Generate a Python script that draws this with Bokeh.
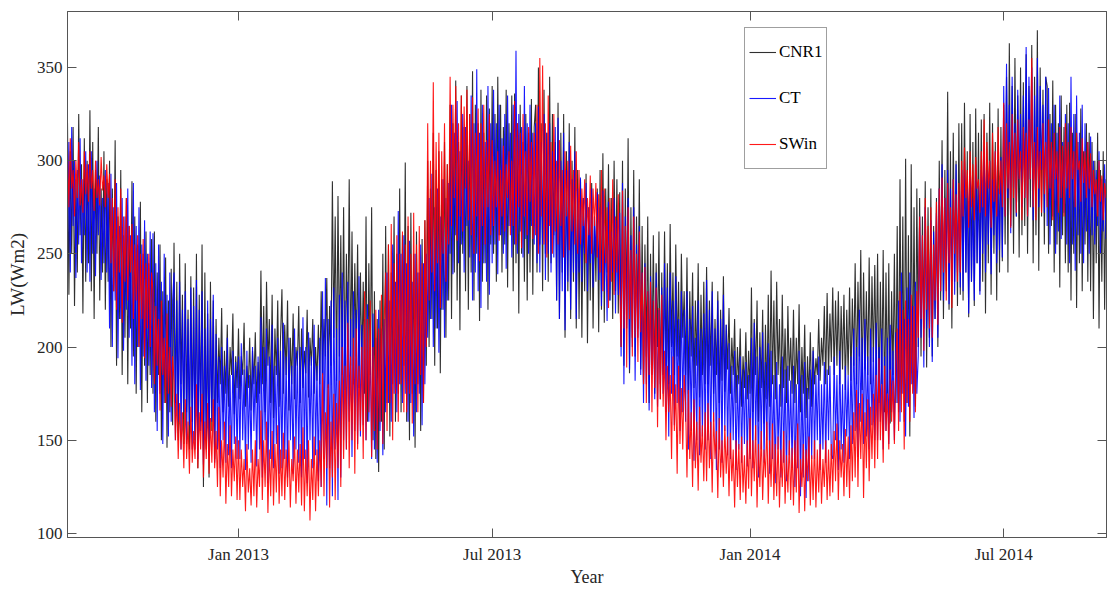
import datetime as dt
import numpy as np
from bokeh.plotting import figure
from bokeh.models import (FixedTicker, DatetimeTickFormatter, Legend, LegendItem,
                          Range1d, DatetimeAxis, LinearAxis)
from bokeh.embed import file_html
from bokeh.resources import INLINE

# ---------------- data (one sample per day from 2012-09-01) ----
START_DATE = dt.datetime(2012, 9, 1)
STEP_DAYS = 1

cnr1 = [
    # Sep 2012
    320, 228, 305, 250, 318, 222, 290, 240, 325, 260, 298, 218, 312, 235, 300,
    245, 327, 230, 310, 215, 295, 250, 318, 225, 285, 240, 305, 220, 290, 235,
    # Oct 2012
    300, 200, 285, 230, 311, 190, 270, 215, 295, 185, 260, 205, 280, 180, 265, 210,
    289, 195, 270, 175, 255, 200, 278, 165, 250, 190, 262, 170, 245, 185, 258,
    # Nov 2012
    175, 262, 160, 240, 185, 255, 150, 230, 170, 248, 146, 225, 165, 242, 158,
    256, 170, 235, 150, 250, 180, 228, 148, 245, 165, 220, 145, 238, 160, 232,
    # Dec 2012
    150, 250, 135, 228, 160, 255, 125, 240, 145, 218, 130, 235, 155, 225, 140,
    215, 170, 205, 180, 221, 165, 198, 175, 212, 168, 200, 185, 218, 164, 195, 178,
    # Jan 2013
    210, 172, 195, 185, 213, 168, 190, 178, 205, 166, 198, 180, 208, 170, 192,
    175, 241, 180, 222, 165, 235, 190, 215, 170, 228, 162, 210, 185, 225, 168, 205,
    # Feb 2013
    231, 175, 212, 185, 225, 166, 205, 180, 218, 172, 200, 190, 222, 170,
    210, 178, 198, 186, 220, 173, 205, 190, 215, 175, 200, 182, 212, 180,
    # Mar 2013
    230, 185, 215, 195, 237, 178, 222, 190, 289, 205, 270, 182, 281, 195, 260,
    185, 275, 177, 250, 200, 290, 190, 262, 180, 245, 195, 255, 178, 240, 188, 235,
    # Apr 2013
    175, 270, 160, 245, 185, 275, 150, 230, 140, 215, 133, 225, 160, 250, 145,
    265, 170, 255, 152, 240, 180, 270, 160, 250, 175, 285, 165, 260, 190, 299,
    # May 2013
    160, 265, 150, 272, 175, 250, 146, 262, 180, 240, 155, 258, 170, 268, 190,
    300, 200, 285, 215, 315, 190, 295, 210, 305, 186, 290, 220, 310, 205, 298, 225,
    # Jun 2013
    330, 215, 320, 240, 343, 225, 310, 209, 335, 250, 318, 230, 340, 220, 325,
    240, 348, 225, 330, 250, 320, 214, 338, 235, 315, 245, 335, 220, 328, 255,
    # Jul 2013
    340, 250, 325, 235, 345, 260, 330, 240, 318, 255, 338, 232, 320, 265, 335,
    230, 336, 245, 320, 218, 330, 250, 310, 235, 325, 225, 315, 240, 333, 228, 318,
    # Aug 2013
    330, 240, 350, 255, 320, 230, 338, 250, 315, 235, 345, 245, 325, 260, 310,
    225, 331, 215, 315, 240, 325, 205, 305, 230, 320, 215, 300, 235, 318, 210, 295,
    # Sep 2013
    215, 290, 205, 280, 230, 293, 202, 275, 225, 288, 210, 270, 235, 285, 208,
    295, 220, 304, 213, 285, 240, 298, 225, 280, 215, 300, 230, 290, 218, 283,
    # Oct 2013
    200, 300, 190, 285, 215, 312, 186, 275, 205, 295, 195, 270, 210, 290, 188,
    265, 180, 255, 195, 270, 170, 250, 190, 260, 175, 245, 200, 262, 172, 240, 185,
    # Nov 2013
    262, 190, 245, 180, 266, 200, 240, 185, 255, 195, 235, 182, 250, 205, 230,
    185, 248, 175, 230, 195, 240, 178, 225, 190, 245, 173, 228, 185, 235, 180,
    # Dec 2013
    243, 180, 225, 190, 235, 175, 215, 185, 230, 170, 220, 182, 238, 176, 212, 188,
    221, 175, 205, 185, 215, 170, 200, 180, 210, 168, 195, 178, 208, 172, 198,
    # Jan 2014
    175, 232, 165, 215, 185, 225, 160, 208, 178, 220, 159, 212, 172, 228, 168,
    241, 180, 225, 172, 235, 185, 215, 168, 228, 178, 210, 170, 222, 182, 205, 175,
    # Feb 2014
    220, 170, 205, 180, 223, 165, 200, 175, 212, 162, 195, 172, 208, 168,
    200, 180, 194, 185, 215, 182, 205, 190, 222, 180, 229, 185, 218, 192,
    # Mar 2014
    232, 185, 225, 190, 230, 180, 222, 188, 228, 177, 220, 185, 232, 182, 226,
    190, 245, 180, 235, 195, 252, 177, 240, 188, 230, 185, 248, 180, 238, 192, 244,
    # Apr 2014
    185, 250, 170, 235, 180, 252, 165, 240, 175, 245, 159, 230, 185, 250, 170,
    265, 165, 290, 175, 270, 160, 301, 170, 260, 152, 298, 180, 275, 168, 285,
    # May 2014
    200, 280, 195, 270, 210, 289, 189, 275, 205, 285, 195, 265, 215, 280, 200,
    300, 225, 311, 215, 295, 230, 337, 220, 305, 210, 315, 235, 300, 222, 320, 228,
    # Jun 2014
    320, 225, 331, 240, 305, 216, 325, 235, 310, 222, 328, 245, 315, 230, 322,
    235, 325, 218, 315, 245, 331, 228, 320, 250, 310, 225, 328, 240, 318, 246,
    # Jul 2014
    330, 255, 345, 240, 363, 265, 340, 250, 355, 270, 335, 248, 350, 260, 342,
    265, 357, 250, 340, 275, 362, 245, 345, 260, 370, 241, 350, 270, 338, 255, 345,
    # Aug 2014
    340, 250, 325, 265, 343, 240, 330, 255, 320, 232, 335, 260, 318, 245, 330,
    240, 331, 225, 315, 250, 325, 221, 310, 245, 328, 230, 305, 255, 320, 235, 315,
    # Sep 2014
    230, 310, 215, 300, 245, 315, 210, 295, 235, 305, 220, 290,
]

ct = [
    # Sep 2012
    250, 310, 240, 318, 265, 300, 237, 295, 255, 312, 245, 290, 260, 305, 240,
    298, 235, 305, 250, 285, 238, 300, 260, 292, 236, 280, 245, 295, 240, 288,
    # Oct 2012
    210, 293, 200, 275, 225, 288, 194, 265, 215, 280, 198, 270, 220, 285, 205, 260,
    190, 288, 180, 265, 200, 275, 177, 255, 195, 268, 182, 250, 190, 262, 178,
    # Nov 2012
    261, 165, 245, 155, 255, 175, 235, 148, 250, 170, 228, 152, 240, 160, 225,
    240, 150, 225, 160, 235, 145, 220, 165, 230, 148, 215, 158, 232, 145, 222,
    # Dec 2012
    145, 236, 140, 220, 155, 230, 137, 210, 150, 225, 142, 215, 160, 228, 138,
    207, 145, 195, 135, 200, 150, 190, 138, 205, 142, 185, 135, 198, 148, 192, 140,
    # Jan 2013
    195, 140, 202, 150, 188, 134, 198, 145, 185, 138, 200, 155, 190, 136, 195,
    145, 216, 130, 200, 150, 210, 127, 195, 140, 212, 135, 190, 148, 205, 132, 198,
    # Feb 2013
    135, 213, 140, 195, 130, 205, 150, 190, 132, 210, 145, 198, 138, 200,
    130, 216, 140, 200, 127, 208, 150, 195, 135, 212, 142, 190, 128, 205,
    # Mar 2013
    125, 230, 140, 237, 115, 215, 135, 225, 120, 232, 145, 210, 118, 228, 130,
    240, 150, 225, 145, 235, 160, 215, 141, 230, 155, 220, 148, 238, 152, 212, 158,
    # Apr 2013
    215, 150, 223, 160, 200, 140, 218, 145, 205, 138, 220, 155, 210, 142, 215,
    165, 240, 170, 225, 160, 255, 175, 235, 165, 273, 180, 250, 170, 260, 175,
    # May 2013
    245, 160, 257, 170, 235, 152, 250, 165, 240, 175, 255, 158, 245, 180, 250,
    205, 280, 215, 293, 200, 275, 210, 285, 197, 270, 220, 290, 205, 280, 225, 288,
    # Jun 2013
    250, 330, 239, 315, 260, 332, 245, 305, 255, 325, 240, 318, 265, 300, 248,
    335, 225, 320, 240, 349, 230, 315, 221, 330, 245, 310, 235, 340, 228, 320,
    # Jul 2013
    245, 338, 255, 320, 239, 330, 260, 312, 250, 325, 242, 335, 265, 315, 248,
    330, 255, 359, 250, 325, 262, 318, 248, 340, 258, 320, 250, 330, 265, 315, 255,
    # Aug 2013
    320, 245, 329, 240, 310, 255, 325, 236, 315, 250, 320, 240, 305, 248, 318,
    225, 323, 215, 300, 230, 315, 209, 295, 235, 310, 220, 290, 240, 305, 215, 285,
    # Sep 2013
    240, 291, 235, 280, 250, 288, 230, 275, 245, 285, 232, 270, 248, 283, 236,
    275, 222, 284, 230, 265, 214, 278, 225, 262, 240, 280, 218, 268, 228, 272,
    # Oct 2013
    195, 288, 180, 270, 210, 280, 188, 260, 200, 275, 182, 255, 205, 265, 185,
    240, 170, 245, 180, 230, 166, 238, 185, 225, 172, 240, 168, 220, 180, 232, 175,
    # Nov 2013
    245, 165, 232, 152, 240, 175, 225, 158, 238, 170, 215, 155, 230, 165, 220,
    160, 230, 145, 215, 155, 222, 139, 205, 150, 225, 142, 210, 152, 218, 145,
    # Dec 2013
    236, 150, 220, 140, 230, 160, 210, 134, 225, 145, 215, 138, 228, 155, 212, 142,
    202, 140, 190, 150, 198, 134, 185, 145, 195, 138, 188, 148, 192, 136, 185,
    # Jan 2014
    140, 205, 135, 213, 150, 195, 130, 200, 145, 208, 138, 192, 150, 202, 132,
    198, 140, 185, 127, 192, 145, 180, 130, 195, 138, 188, 128, 190, 142, 182, 135,
    # Feb 2014
    190, 125, 180, 135, 198, 120, 185, 130, 192, 119, 178, 128, 188, 140,
    198, 140, 185, 150, 195, 134, 180, 145, 192, 138, 188, 150, 190, 142,
    # Mar 2014
    140, 195, 150, 185, 134, 198, 145, 180, 138, 190, 152, 185, 140, 195, 148,
    210, 155, 200, 141, 220, 160, 205, 148, 215, 152, 195, 145, 210, 158, 200, 150,
    # Apr 2014
    213, 150, 200, 160, 210, 145, 195, 155, 205, 148, 212, 165, 198, 150, 208,
    170, 225, 160, 240, 175, 215, 152, 232, 168, 240, 180, 222, 162, 235, 175,
    # May 2014
    195, 270, 205, 260, 189, 275, 210, 250, 200, 268, 192, 262, 215, 272, 205,
    285, 230, 298, 225, 280, 240, 295, 223, 285, 235, 290, 228, 298, 240, 282, 232,
    # Jun 2014
    295, 230, 300, 240, 285, 218, 292, 235, 280, 225, 298, 245, 288, 228, 295,
    250, 307, 240, 295, 255, 300, 239, 290, 260, 305, 245, 285, 252, 302, 248,
    # Jul 2014
    340, 270, 352, 280, 330, 261, 345, 285, 320, 270, 338, 290, 325, 275, 335,
    280, 361, 270, 345, 290, 350, 268, 335, 285, 355, 275, 340, 295, 330, 272, 345,
    # Aug 2014
    265, 339, 255, 320, 270, 330, 250, 315, 262, 335, 258, 310, 272, 325, 255,
    320, 245, 345, 255, 325, 241, 335, 260, 315, 250, 330, 245, 320, 262, 310, 250,
    # Sep 2014
    313, 260, 300, 255, 295, 265, 305, 250, 290, 262, 298, 258,
]

swin = [
    # Sep 2012
    305, 275, 312, 285, 295, 270, 300, 280, 310, 276, 290, 272, 305, 282, 298,
    278, 305, 285, 295, 273, 300, 280, 290, 276, 302, 284, 292, 275, 298, 280,
    # Oct 2012
    293, 245, 280, 230, 290, 220, 275, 240, 285, 213, 270, 235, 280, 225, 265, 240,
    266, 215, 255, 225, 260, 200, 250, 215, 258, 194, 245, 210, 250, 200, 240,
    # Nov 2012
    230, 180, 222, 190, 215, 166, 225, 185, 205, 170, 218, 175, 200, 168, 195,
    182, 150, 175, 140, 170, 145, 165, 135, 172, 140, 160, 132, 168, 138, 155,
    # Dec 2012
    140, 180, 135, 165, 145, 175, 130, 160, 140, 170, 132, 162, 138, 172, 135,
    155, 125, 168, 120, 150, 130, 160, 116, 148, 125, 158, 120, 145, 128, 152, 118,
    # Jan 2013
    150, 118, 145, 125, 140, 112, 148, 122, 135, 115, 145, 120, 150, 114, 140,
    125, 166, 118, 150, 125, 160, 111, 145, 120, 155, 115, 148, 122, 158, 116, 145,
    # Feb 2013
    120, 154, 118, 145, 125, 150, 114, 140, 128, 152, 116, 145, 122, 148,
    115, 157, 112, 145, 120, 150, 107, 140, 118, 152, 112, 145, 120, 150,
    # Mar 2013
    125, 186, 120, 165, 135, 180, 114, 160, 130, 175, 118, 170, 135, 182, 125,
    200, 140, 190, 145, 213, 135, 195, 150, 205, 132, 210, 145, 190, 155, 200, 140,
    # Apr 2013
    230, 150, 215, 165, 225, 141, 200, 155, 220, 145, 210, 160, 228, 148, 215,
    240, 155, 255, 170, 266, 150, 245, 175, 260, 160, 250, 180, 262, 165, 255,
    # May 2013
    165, 270, 175, 250, 159, 272, 180, 255, 165, 265, 185, 245, 170, 268, 200,
    320, 225, 300, 240, 342, 230, 310, 245, 315, 221, 305, 250, 320, 235, 298, 255,
    # Jun 2013
    345, 265, 330, 280, 340, 257, 320, 270, 335, 262, 329, 285, 338, 268, 325,
    260, 334, 250, 315, 270, 328, 246, 320, 265, 330, 255, 311, 275, 325, 260,
    # Jul 2013
    311, 265, 300, 275, 305, 257, 295, 270, 308, 262, 298, 280, 305, 260, 300,
    265, 332, 255, 320, 275, 315, 253, 325, 270, 305, 260, 318, 278, 310, 258, 315,
    # Aug 2013
    260, 330, 250, 355, 270, 351, 255, 320, 248, 335, 265, 310, 250, 325, 262,
    300, 255, 311, 265, 295, 248, 305, 270, 300, 252, 308, 262, 295, 255, 305, 250,
    # Sep 2013
    295, 255, 285, 265, 290, 245, 280, 260, 292, 250, 285, 265, 288, 248, 282,
    240, 295, 230, 285, 245, 275, 221, 280, 235, 290, 228, 270, 240, 282, 232,
    # Oct 2013
    200, 284, 210, 265, 189, 275, 215, 252, 195, 270, 205, 250, 192, 262, 208,
    240, 180, 243, 170, 230, 185, 235, 165, 225, 178, 232, 157, 221, 172, 228, 168,
    # Nov 2013
    198, 150, 190, 165, 185, 140, 195, 155, 180, 132, 190, 148, 178, 145, 185,
    170, 130, 177, 140, 165, 125, 172, 135, 160, 123, 168, 138, 158, 128, 165,
    # Dec 2013
    128, 170, 135, 160, 122, 165, 140, 155, 119, 162, 130, 150, 125, 158, 132, 152,
    120, 154, 128, 145, 114, 150, 125, 148, 118, 152, 122, 142, 116, 150, 124,
    # Jan 2014
    162, 120, 150, 128, 158, 114, 148, 125, 155, 118, 145, 130, 160, 116, 150,
    125, 159, 118, 148, 120, 152, 114, 145, 125, 155, 116, 142, 122, 150, 118, 146,
    # Feb 2014
    115, 150, 122, 159, 111, 140, 125, 148, 112, 145, 128, 152, 115, 142,
    118, 150, 114, 145, 122, 148, 116, 140, 125, 150, 118, 145, 120, 148,
    # Mar 2014
    122, 155, 128, 159, 118, 150, 130, 148, 120, 156, 125, 152, 119, 158, 128,
    165, 130, 177, 125, 170, 140, 175, 119, 165, 135, 172, 128, 168, 140, 175, 135,
    # Apr 2014
    185, 140, 194, 150, 180, 138, 190, 155, 175, 145, 188, 160, 182, 148, 192,
    210, 155, 230, 165, 220, 145, 225, 170, 215, 160, 228, 175, 222, 165, 230,
    # May 2014
    205, 270, 215, 260, 198, 280, 220, 265, 210, 275, 205, 255, 225, 278, 212,
    285, 230, 291, 240, 280, 225, 288, 245, 275, 221, 290, 250, 282, 235, 288, 240,
    # Jun 2014
    300, 270, 307, 280, 295, 264, 305, 275, 298, 268, 302, 285, 290, 272, 305,
    275, 322, 270, 310, 285, 300, 264, 315, 278, 305, 270, 318, 282, 300, 275,
    # Jul 2014
    331, 270, 320, 285, 310, 264, 325, 280, 315, 272, 322, 290, 305, 268, 318,
    280, 315, 270, 322, 290, 355, 275, 310, 268, 318, 285, 305, 272, 320, 282, 310,
    # Aug 2014
    275, 322, 285, 310, 268, 315, 290, 305, 272, 318, 280, 308, 270, 320, 285,
    310, 280, 318, 290, 305, 275, 315, 295, 300, 278, 312, 288, 305, 280, 310, 285,
    # Sep 2014
    304, 275, 295, 282, 290, 270, 300, 278, 292, 268, 288, 280,
]

series_names = ["CNR1", "CT", "SWin"]
series_colors = ["#1a1a1a", "#0000ff", "#ff0000"]
x_ticks = ["2013-01-01", "2013-07-01", "2014-01-01", "2014-07-01"]
y_ticks = [100, 150, 200, 250, 300, 350]


def times(n):
    return [START_DATE + dt.timedelta(days=STEP_DAYS * i) for i in range(n)]


def to_ms(s):
    return float((np.datetime64(s) - np.datetime64("1970-01-01")) / np.timedelta64(1, "ms"))


FONT = "Liberation Serif"
AX = "#555555"
TXT = "#262626"

p = figure(width=1107, height=590, x_axis_type="datetime",
           output_backend="svg", toolbar_location=None,
           x_range=Range1d(dt.datetime(2012, 9, 1), dt.datetime(2014, 9, 12, 8)),
           y_range=Range1d(97.85, 380),
           min_border_left=67, min_border_right=1, min_border_top=11, min_border_bottom=53)
p.xgrid.visible = False
p.ygrid.visible = False
p.outline_line_color = AX
p.outline_line_width = 1
p.background_fill_color = "white"
p.border_fill_color = "white"

renderers = []
for name, vals, col in zip(series_names, [cnr1, ct, swin], series_colors):
    r = p.line(times(len(vals)), vals, line_color=col, line_width=1.1, line_alpha=0.9)
    renderers.append(r)

fmt = DatetimeTickFormatter(
    microseconds="%b %Y", milliseconds="%b %Y", seconds="%b %Y", minsec="%b %Y",
    minutes="%b %Y", hourmin="%b %Y", hours="%b %Y", days="%b %Y",
    months="%b %Y", years="%b %Y")
xt = FixedTicker(ticks=[to_ms(s) for s in x_ticks])
yt = FixedTicker(ticks=y_ticks)

xa = p.xaxis[0]
xa.ticker = xt
xa.formatter = fmt
ya = p.yaxis[0]
ya.ticker = yt

for ax in (xa, ya):
    ax.axis_line_color = AX
    ax.major_tick_line_color = AX
    ax.major_tick_in = 9
    ax.major_tick_out = 0
    ax.minor_tick_line_color = None
    ax.major_label_text_font = FONT
    ax.major_label_text_font_size = "17px"
    ax.major_label_text_color = TXT
    ax.axis_label_text_font = FONT
    ax.axis_label_text_font_size = "19px"
    ax.axis_label_text_font_style = "normal"
    ax.axis_label_text_color = TXT

xa.axis_label = "Year"
xa.major_label_standoff = 7
xa.axis_label_standoff = 0
xa.axis_label_text_font_size = "18px"
ya.axis_label = "LW(Wm2)"
ya.major_label_standoff = 5
ya.axis_label_standoff = 6

# box ticks on the top and right edges (no labels there)
top = DatetimeAxis(ticker=xt, formatter=fmt)
right = LinearAxis(ticker=yt)
for ax in (top, right):
    ax.axis_line_color = AX
    ax.major_tick_line_color = AX
    ax.major_tick_in = 9
    ax.major_tick_out = 0
    ax.minor_tick_line_color = None
    ax.major_label_text_color = None
    ax.major_label_text_font_size = "1px"
    ax.major_label_standoff = 0
    ax.axis_label_standoff = 0
p.add_layout(top, "above")
p.add_layout(right, "right")

legend = Legend(items=[LegendItem(label=n, renderers=[r]) for n, r in zip(series_names, renderers)],
                location=(677, 368), orientation="vertical")
legend.padding = 4
legend.margin = 0
legend.spacing = 6
legend.glyph_width = 27
legend.glyph_height = 40
legend.label_height = 40
legend.label_standoff = 3
legend.label_text_font = FONT
legend.label_text_font_size = "17px"
legend.label_text_color = "#000000"
legend.border_line_color = "#404040"
legend.border_line_width = 1
legend.background_fill_color = "white"
legend.background_fill_alpha = 1
p.add_layout(legend)

open("out.html", "w").write(file_html(p, INLINE))
